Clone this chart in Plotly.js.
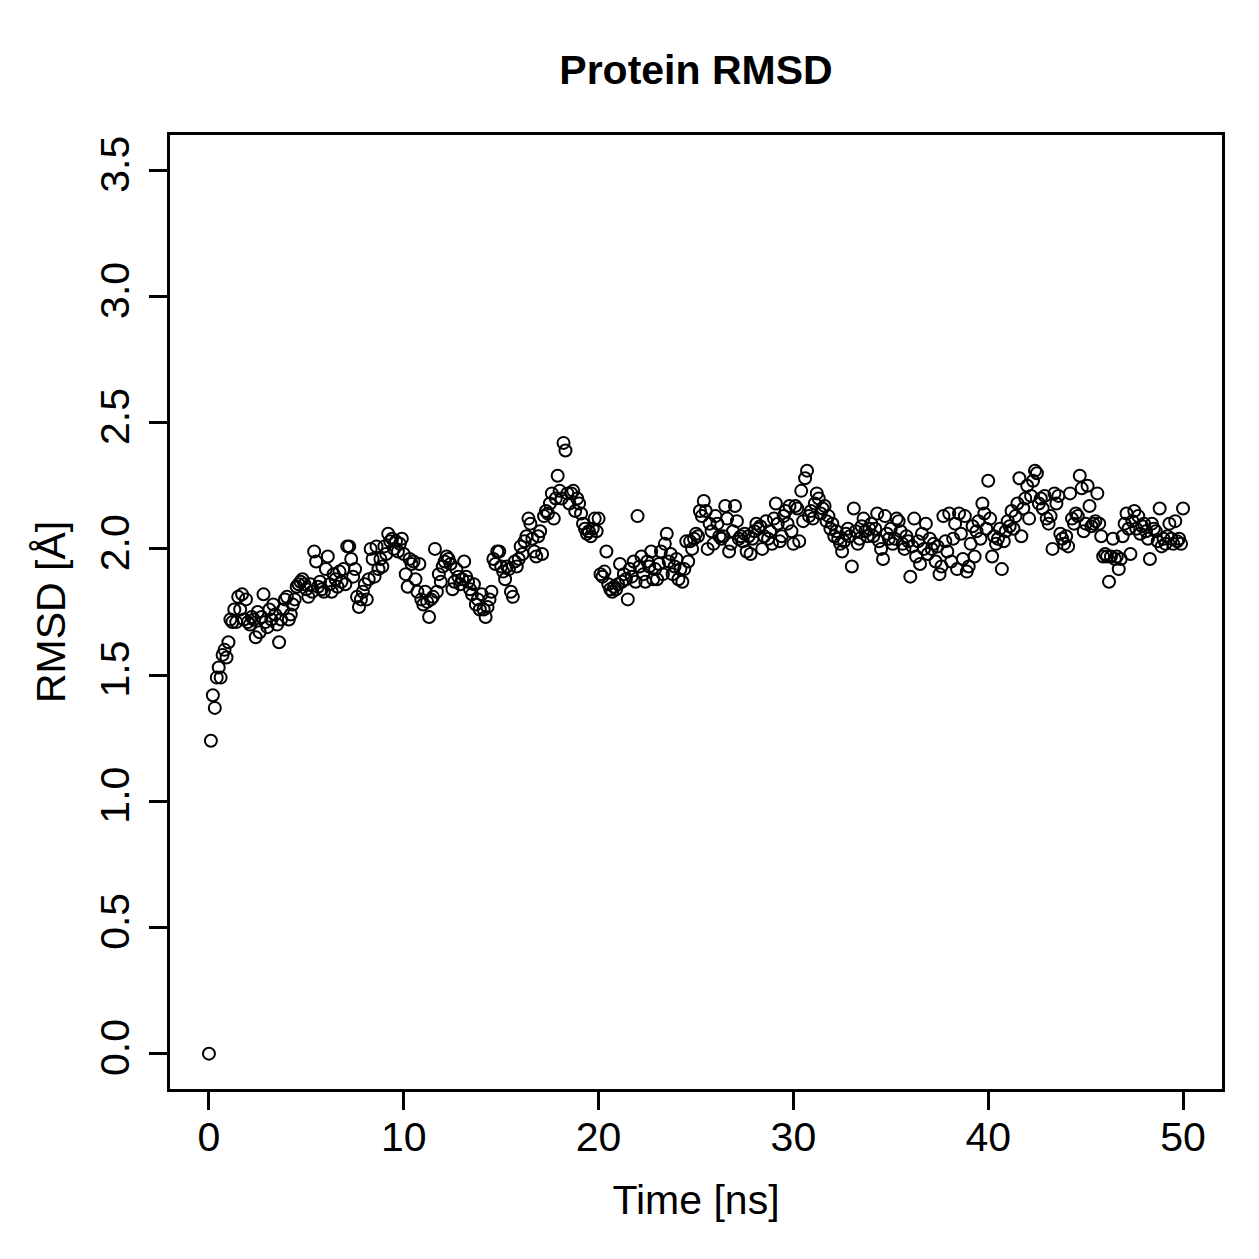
<!DOCTYPE html>
<html>
<head>
<meta charset="utf-8">
<script src="https://cdn.plot.ly/plotly-3.0.1.min.js"></script>
<style>
  html, body { margin: 0; padding: 0; background: #ffffff; }
  #chart { width: 1259px; height: 1259px; }
</style>
</head>
<body>
<div id="chart"></div>
<script>
// Backbone RMSD of the protein over a 50 ns trajectory, one frame every 0.1 ns.
const timeStepNs = 0.1;

const rmsd = [
  // 0 - 9.9 ns
  0.00, 1.24, 1.42, 1.37, 1.49, 1.53, 1.49, 1.58, 1.60, 1.57,
  1.63, 1.72, 1.71, 1.76, 1.71, 1.81, 1.76, 1.82, 1.72, 1.80,
  1.71, 1.70, 1.73, 1.72, 1.65, 1.75, 1.67, 1.73, 1.82, 1.71,
  1.69, 1.76, 1.72, 1.78, 1.74, 1.70, 1.63, 1.72, 1.76, 1.80,
  1.81, 1.72, 1.74, 1.78, 1.80, 1.85, 1.86, 1.87, 1.88, 1.86,
  1.84, 1.81, 1.86, 1.83, 1.99, 1.95, 1.85, 1.87, 1.84, 1.83,
  1.92, 1.97, 1.86, 1.83, 1.90, 1.88, 1.85, 1.91, 1.87, 1.92,
  1.86, 2.01, 2.01, 1.96, 1.89, 1.92, 1.81, 1.77, 1.80, 1.83,
  1.86, 1.80, 1.88, 2.00, 1.96, 1.89, 2.01, 1.92, 1.96, 1.93,
  2.01, 1.98, 2.06, 2.03, 2.04, 2.00, 2.03, 1.99, 2.02, 2.04,
  // 10 - 19.9 ns
  1.98, 1.90, 1.85, 1.96, 1.94, 1.95, 1.88, 1.83, 1.94, 1.80,
  1.78, 1.83, 1.79, 1.73, 1.80, 1.81, 2.00, 1.83, 1.90, 1.87,
  1.93, 1.95, 1.97, 1.96, 1.94, 1.84, 1.87, 1.92, 1.89, 1.86,
  1.88, 1.95, 1.89, 1.87, 1.84, 1.82, 1.86, 1.78, 1.80, 1.76,
  1.82, 1.76, 1.73, 1.77, 1.80, 1.83, 1.96, 1.94, 1.99, 1.99,
  1.93, 1.91, 1.88, 1.93, 1.92, 1.83, 1.81, 1.95, 1.93, 1.96,
  2.01, 1.98, 2.03, 2.05, 2.12, 2.10, 2.04, 1.99, 1.97, 2.05,
  2.07, 1.98, 2.13, 2.15, 2.14, 2.18, 2.22, 2.12, 2.20, 2.29,
  2.23, 2.20, 2.42, 2.39, 2.22, 2.18, 2.22, 2.23, 2.15, 2.20,
  2.18, 2.14, 2.10, 2.08, 2.06, 2.07, 2.05, 2.08, 2.12, 2.07,
  // 20 - 29.9 ns
  2.12, 1.90, 1.89, 1.91, 1.99, 1.86, 1.84, 1.83, 1.85, 1.84,
  1.86, 1.94, 1.87, 1.90, 1.88, 1.80, 1.92, 1.89, 1.95, 1.87,
  2.13, 1.93, 1.97, 1.90, 1.87, 1.95, 1.93, 1.99, 1.88, 1.92,
  1.88, 1.94, 1.99, 1.90, 2.02, 2.06, 1.95, 1.98, 1.90, 1.93,
  1.96, 1.88, 1.92, 1.87, 1.92, 2.03, 1.95, 2.03, 2.00, 2.04,
  2.06, 2.05, 2.15, 2.13, 2.19, 2.15, 2.00, 2.10, 2.07, 2.02,
  2.13, 2.10, 2.05, 2.04, 2.05, 2.17, 2.12, 1.99, 2.02, 2.07,
  2.17, 2.11, 2.04, 2.05, 2.03, 2.06, 1.99, 2.05, 1.98, 2.04,
  2.07, 2.10, 2.08, 2.09, 2.00, 2.05, 2.11, 2.04, 2.07, 2.02,
  2.12, 2.18, 2.10, 2.03, 2.05, 2.13, 2.15, 2.10, 2.17, 2.07,
  // 30 - 39.9 ns
  2.02, 2.17, 2.16, 2.03, 2.23, 2.11, 2.28, 2.31, 2.13, 2.15,
  2.12, 2.18, 2.22, 2.20, 2.14, 2.16, 2.17, 2.11, 2.13, 2.08,
  2.10, 2.05, 2.07, 2.04, 2.02, 1.99, 2.03, 2.06, 2.08, 2.05,
  1.93, 2.16, 2.07, 2.02, 2.04, 2.09, 2.12, 2.07, 2.05, 2.08,
  2.10, 2.05, 2.08, 2.14, 2.03, 2.00, 1.96, 2.13, 2.06, 2.04,
  2.08, 2.02, 2.04, 2.12, 2.11, 2.07, 2.02, 2.00, 2.05, 2.03,
  1.89, 2.01, 2.12, 1.97, 2.03, 1.94, 2.06, 2.00, 2.10, 1.98,
  2.04, 2.00, 2.02, 1.95, 2.01, 1.90, 1.93, 2.13, 2.03, 1.99,
  2.14, 1.95, 2.04, 2.10, 1.92, 2.14, 2.06, 1.96, 2.13, 1.91,
  1.93, 2.02, 2.09, 1.97, 2.07, 2.11, 2.04, 2.18, 2.14, 2.08,
  // 40 - 50 ns
  2.27, 2.12, 1.97, 2.05, 2.02, 2.04, 2.08, 1.92, 2.03, 2.07,
  2.11, 2.09, 2.15, 2.08, 2.13, 2.18, 2.28, 2.05, 2.16, 2.20,
  2.25, 2.12, 2.21, 2.27, 2.31, 2.30, 2.18, 2.20, 2.16, 2.21,
  2.12, 2.10, 2.13, 2.00, 2.22, 2.18, 2.21, 2.06, 2.04, 2.02,
  2.05, 2.01, 2.22, 2.12, 2.10, 2.14, 2.13, 2.29, 2.24, 2.07,
  2.10, 2.25, 2.17, 2.09, 2.10, 2.11, 2.22, 2.10, 2.05, 1.97,
  1.98, 1.97, 1.87, 1.97, 2.04, 1.96, 1.97, 1.92, 1.96, 2.05,
  2.10, 2.14, 2.08, 1.98, 2.11, 2.15, 2.08, 2.13, 2.06, 2.09,
  2.10, 2.07, 2.04, 1.96, 2.10, 2.08, 2.07, 2.03, 2.16, 2.01,
  2.04, 2.02, 2.05, 2.10, 2.04, 2.02, 2.11, 2.03, 2.04, 2.02,
  2.16
];

const timeNs = rmsd.map((_, i) => +(i * timeStepNs).toFixed(1));

const xTicks = [0, 10, 20, 30, 40, 50];
const yTicks = [0.0, 0.5, 1.0, 1.5, 2.0, 2.5, 3.0, 3.5];

const font = 'Liberation Sans, Arial, Helvetica, sans-serif';
const labelSize = 41;

const trace = {
  x: timeNs,
  y: rmsd,
  type: 'scatter',
  mode: 'markers',
  marker: {
    symbol: 'circle-open',
    size: 12,
    color: '#000000',
    line: { color: '#000000', width: 2 }
  },
  hoverinfo: 'x+y'
};

const axisCommon = {
  showgrid: false,
  zeroline: false,
  showline: true,
  mirror: true,
  linecolor: '#000000',
  linewidth: 3,
  ticks: 'outside',
  ticklen: 18,
  tickwidth: 3,
  tickcolor: '#000000',
  tickfont: { family: font, size: labelSize, color: '#000000' },
  tickmode: 'array'
};

const layout = {
  width: 1259,
  height: 1259,
  paper_bgcolor: '#ffffff',
  plot_bgcolor: '#ffffff',
  showlegend: false,
  margin: { l: 170, r: 37, t: 135, b: 170, pad: 0 },
  title: {
    text: '<b>Protein RMSD</b>',
    font: { family: font, size: 41, color: '#000000' },
    x: 0.5, xref: 'paper',
    y: 1 - 70 / 1259, yref: 'container', yanchor: 'middle'
  },
  xaxis: Object.assign({}, axisCommon, {
    range: [-2, 52],
    tickvals: xTicks,
    ticktext: xTicks.map(String),
    ticklabelstandoff: -8,
    title: { text: 'Time [ns]', font: { family: font, size: labelSize, color: '#000000' }, standoff: 27 }
  }),
  yaxis: Object.assign({}, axisCommon, {
    range: [-0.14, 3.64],
    tickvals: yTicks,
    ticktext: yTicks.map(v => v.toFixed(1)),
    tickangle: -90,
    ticklabelstandoff: 4,
    title: { text: 'RMSD [Å]', font: { family: font, size: labelSize, color: '#000000' }, standoff: 14 }
  })
};

Plotly.newPlot('chart', [trace], layout, { displayModeBar: false, staticPlot: true });
</script>
</body>
</html>
